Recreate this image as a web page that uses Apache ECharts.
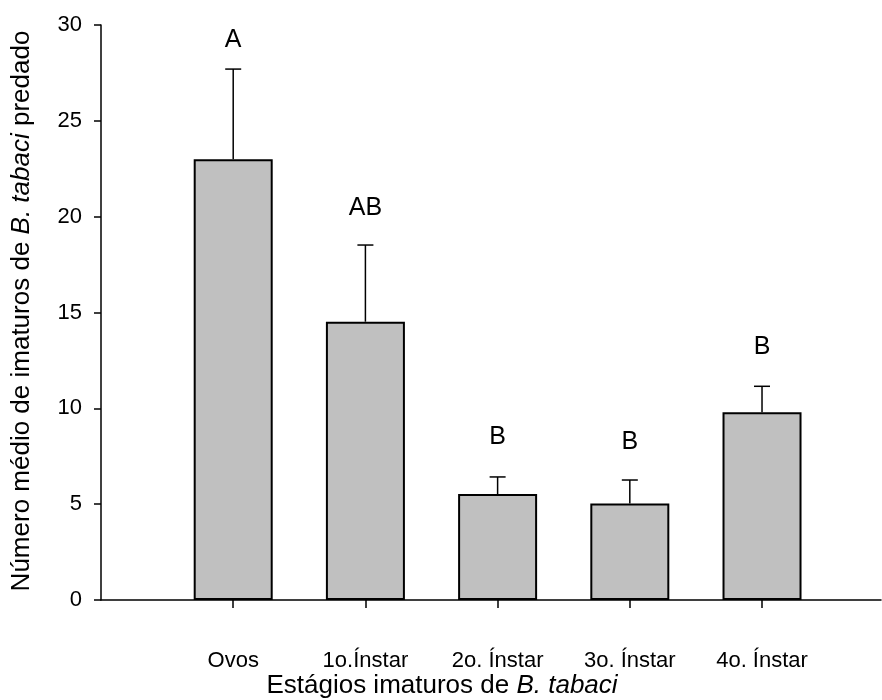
<!DOCTYPE html>
<html>
<head>
<meta charset="utf-8">
<script src="https://cdn.jsdelivr.net/npm/echarts@6/dist/echarts.min.js"></script>
<style>html,body{margin:0;padding:0;background:#fff}#c{width:882px;height:700px}</style>
</head>
<body>
<div id="c"></div>
<script>
const categories = ['Ovos', '1o.Ínstar', '2o. Ínstar', '3o. Ínstar', '4o. Ínstar'];
const positions = [1, 2, 3, 4, 5];
const means = [23.0, 14.52, 5.53, 5.04, 9.79];
const errTops = [27.7, 18.52, 6.42, 6.26, 11.15];
const letters = ['A', 'AB', 'B', 'B', 'B'];
const letterY = [29.2, 20.45, 8.5, 8.26, 13.18];
const yTicks = [0, 5, 10, 15, 20, 25, 30];

const FONT = 'Liberation Sans, Arial, Helvetica, sans-serif';
const chart = echarts.init(document.getElementById('c'), null, {renderer: 'canvas'});

const barData = positions.map((p, i) => [p, means[i]]);
const errData = positions.map((p, i) => [p, means[i], errTops[i]]);
const letterData = positions.map((p, i) => [p, letterY[i], letters[i]]);

chart.setOption({
  animation: false,
  backgroundColor: '#fff',
  grid: {left: 101, top: 25, width: 780, height: 575},
  xAxis: {
    type: 'value', min: 0, max: 5.9, interval: 1,
    axisLine: {show: true, lineStyle: {color: '#000', width: 1.5}},
    axisTick: {show: true, length: 8, inside: false, customValues: positions, lineStyle: {color: '#000', width: 1.5}},
    axisLabel: {
      show: true, margin: 50, customValues: positions,
      color: '#000', fontFamily: FONT, fontSize: 22,
      formatter: v => { const i = positions.indexOf(Math.round(v)); return (i >= 0 && Math.abs(v - Math.round(v)) < 1e-6) ? categories[i] : ''; }
    },
    splitLine: {show: false}
  },
  yAxis: {
    type: 'value', min: 0, max: 30, interval: 5,
    axisLine: {show: true, lineStyle: {color: '#000', width: 1.5}},
    axisTick: {show: true, length: 7, inside: false, lineStyle: {color: '#000', width: 1.5}},
    axisLabel: {color: '#000', fontFamily: FONT, fontSize: 22, margin: 19},
    splitLine: {show: false}
  },
  series: [
    {
      type: 'bar', data: barData, barWidth: 79,
      itemStyle: {color: '#c0c0c0', borderColor: '#000', borderWidth: 2}
    },
    {
      type: 'custom', data: errData, z: 1,
      renderItem: (params, api) => {
        const x = api.value(0);
        const p0 = api.coord([x, api.value(1)]);
        const p1 = api.coord([x, api.value(2)]);
        const hw = 8;
        return {type: 'group', children: [
          {type: 'line', shape: {x1: p0[0], y1: p0[1], x2: p1[0], y2: p1[1]}, style: {stroke: '#000', lineWidth: 1.5}},
          {type: 'line', shape: {x1: p1[0] - hw, y1: p1[1], x2: p1[0] + hw, y2: p1[1]}, style: {stroke: '#000', lineWidth: 1.5}}
        ]};
      }
    },
    {
      type: 'custom', data: letterData,
      renderItem: (params, api) => {
        const p = api.coord([api.value(0), api.value(1)]);
        return {type: 'text', x: p[0], y: p[1], style: {text: letters[params.dataIndex], fill: '#000', font: '25px ' + FONT, align: 'center', verticalAlign: 'middle'}};
      }
    }
  ],
  graphic: [
    {
      type: 'text', x: 442, y: 686,
      style: {
        text: '{n|Estágios imaturos de }{i|B. tabaci}',
        align: 'center', verticalAlign: 'middle',
        rich: {
          n: {fontFamily: FONT, fontSize: 26, fill: '#000'},
          i: {fontFamily: FONT, fontSize: 26, fontStyle: 'italic', fill: '#000'}
        }
      }
    },
    {
      type: 'text', x: 22, y: 311, rotation: Math.PI / 2,
      style: {
        text: '{n|Número médio de imaturos de }{i|B. tabaci}{n| predado}',
        align: 'center', verticalAlign: 'middle',
        rich: {
          n: {fontFamily: FONT, fontSize: 26, fill: '#000'},
          i: {fontFamily: FONT, fontSize: 26, fontStyle: 'italic', fill: '#000'}
        }
      }
    }
  ]
});
</script>
</body>
</html>
